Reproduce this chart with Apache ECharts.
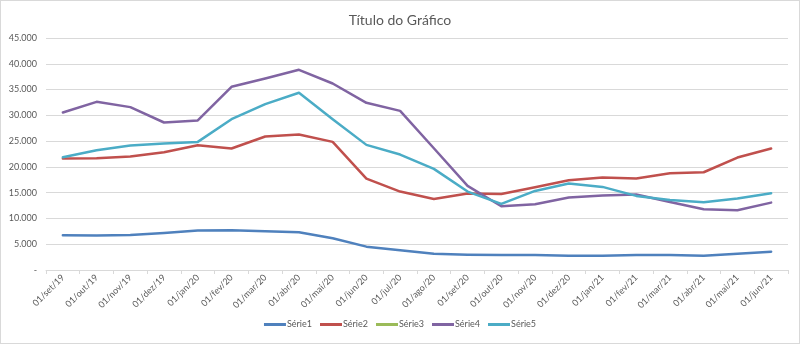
<!DOCTYPE html>
<html>
<head>
<meta charset="utf-8">
<script src="https://cdn.jsdelivr.net/npm/echarts@6/dist/echarts.min.js"></script>
<style>
  html, body { margin: 0; padding: 0; background: #fff; }
  #chart { width: 798px; height: 342px; border: 1px solid #d9d9d9; }
</style>
</head>
<body>
<div id="chart"></div>
<script>
// Monthly categories, Sep 2019 – Jun 2021
const categories = [
  '01/set/19', '01/out/19', '01/nov/19', '01/dez/19', '01/jan/20', '01/fev/20',
  '01/mar/20', '01/abr/20', '01/mai/20', '01/jun/20', '01/jul/20', '01/ago/20',
  '01/set/20', '01/out/20', '01/nov/20', '01/dez/20', '01/jan/21', '01/fev/21',
  '01/mar/21', '01/abr/21', '01/mai/21', '01/jun/21'
];

const serie1 = [6730, 6670, 6800, 7180, 7640, 7700, 7510, 7310, 6150, 4530, 3820, 3170,
                2980, 2910, 2910, 2780, 2780, 2910, 2910, 2780, 3170, 3560];
const serie2 = [21620, 21680, 22000, 22850, 24210, 23560, 25890, 26280, 24850, 17730, 15210, 13790,
                14820, 14760, 16050, 17410, 17930, 17730, 18770, 18960, 21810, 23560];
const serie3 = [];
const serie4 = [30550, 32620, 31590, 28610, 29000, 35530, 37150, 38830, 36180, 32430, 30870, 23620,
                16310, 12360, 12750, 14050, 14430, 14630, 13200, 11780, 11590, 13070];
const serie5 = [21880, 23240, 24140, 24530, 24850, 29250, 32170, 34370, 29250, 24270, 22390, 19610,
                15210, 12820, 15340, 16760, 16120, 14370, 13590, 13140, 13850, 14890];

const seriesNames = ['Série1', 'Série2', 'Série3', 'Série4', 'Série5'];
const seriesData = [serie1, serie2, serie3, serie4, serie5];
const seriesColors = ['#4F81BD', '#C0504D', '#9BBB59', '#8064A2', '#4BACC6'];

const yTicks = { min: 0, max: 45000, interval: 5000 };

const font = 'Lato, "Open Sans", sans-serif';

const chart = echarts.init(document.getElementById('chart'));
chart.setOption({
  animation: false,
  title: {
    text: 'Título do Gráfico',
    left: 'center',
    top: 7,
    textStyle: { fontFamily: font, fontSize: 14, fontWeight: 'normal', color: '#595959' }
  },
  legend: {
    bottom: 9,
    left: 'center',
    itemWidth: 22,
    itemHeight: 3,
    itemGap: 8,
    icon: 'rect',
    textStyle: { fontFamily: font, fontSize: 9, color: '#595959', padding: [0, 0, 0, -4] },
    data: seriesNames
  },
  grid: { left: 45, right: 11, top: 37, bottom: 73, containLabel: false },
  xAxis: {
    type: 'category',
    data: categories,
    boundaryGap: true,
    axisLine: { lineStyle: { color: '#d9d9d9', width: 1 } },
    axisTick: { show: true, length: 4, lineStyle: { color: '#d9d9d9' } },
    axisLabel: {
      rotate: 45, interval: 0, margin: 6,
      fontFamily: font, fontSize: 9, color: '#595959'
    },
    splitLine: { show: false }
  },
  yAxis: {
    type: 'value',
    min: yTicks.min, max: yTicks.max, interval: yTicks.interval,
    axisLine: { show: false },
    axisTick: { show: false },
    axisLabel: {
      margin: 9, fontFamily: font, fontSize: 9, color: '#595959',
      formatter: v => v === 0 ? '-' : v.toLocaleString('de-DE')
    },
    splitLine: { lineStyle: { color: '#d9d9d9', width: 1 } }
  },
  series: seriesNames.map((name, i) => ({
    name,
    type: 'line',
    data: seriesData[i],
    symbol: 'none',
    showSymbol: false,
    color: seriesColors[i],
    lineStyle: { width: 2.5, color: seriesColors[i], cap: 'round', join: 'round' }
  }))
});
</script>
</body>
</html>
